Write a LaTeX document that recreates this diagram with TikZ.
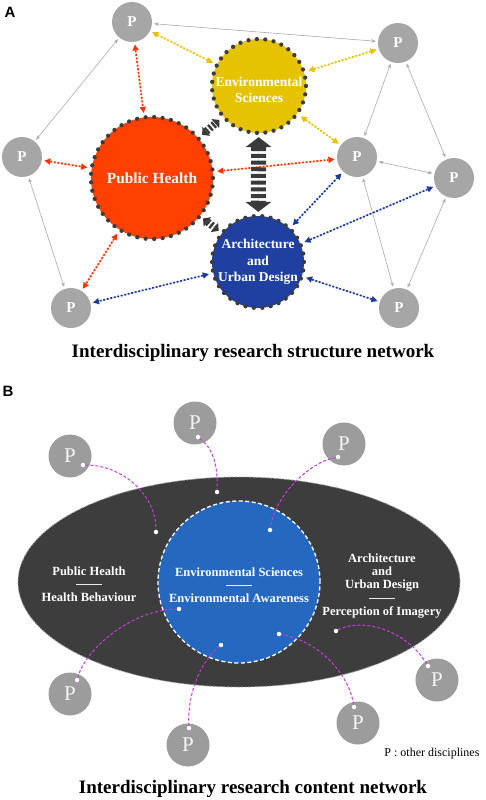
\documentclass[tikz,border=0pt]{standalone}
\usepackage{fontspec}
\setmainfont{Liberation Serif}
\newfontfamily\lsans{Liberation Sans}
\usetikzlibrary{arrows.meta,shapes.geometric}
\definecolor{pgA}{HTML}{A6A6A6}
\definecolor{pgB}{HTML}{9C9C9C}
\definecolor{phred}{HTML}{FF4000}
\definecolor{envyel}{HTML}{E6C300}
\definecolor{archblue}{HTML}{1F40A0}
\definecolor{redarr}{HTML}{FF3300}
\definecolor{yelarr}{HTML}{E8C000}
\definecolor{bluarr}{HTML}{1A3A9F}
\definecolor{dotc}{HTML}{3C3C3C}
\definecolor{ellc}{HTML}{3D3D3D}
\definecolor{bcirc}{HTML}{2468C0}
\definecolor{magc}{HTML}{C83CDC}
\definecolor{hatchc}{HTML}{3A3A3A}
\definecolor{grayline}{HTML}{ABABAB}
\begin{document}
\begin{tikzpicture}[x=1pt,y=-1pt,
  pA/.style={circle,fill=pgA,minimum size=40pt,inner sep=0pt,text=white,font=\bfseries\fontsize{15}{15}\selectfont},
  pB/.style={circle,fill=pgB,minimum size=43pt,inner sep=0pt,text=white!92!gray,font=\fontsize{21}{21}\selectfont},
  bigc/.style={circle,inner sep=0pt,text=white,align=center,draw=dotc,line width=4.3pt,line cap=round},
  hatch/.style={draw=hatchc,fill=hatchc},
  garr/.style={draw=grayline,line width=0.6pt,{Stealth[length=4.5pt,width=3.5pt]}-{Stealth[length=4.5pt,width=3.5pt]},shorten <=2pt,shorten >=2pt},
  carr/.style={line width=1.7pt,dash pattern=on 1.9pt off 1.7pt,{Triangle[length=6pt,width=6.5pt,line width=0pt]}-{Triangle[length=6pt,width=6.5pt,line width=0pt]},shorten <=2.5pt,shorten >=2.5pt},
  btext/.style={align=center,text=white,font=\bfseries\fontsize{12.5}{13.2}\selectfont},
  wdot/.style={circle,fill=white,minimum size=4.5pt,inner sep=0pt},
  mcurve/.style={draw=magc,line width=1pt,dash pattern=on 3pt off 2pt},
  title/.style={font=\bfseries\fontsize{19}{19}\selectfont},
  panel/.style={font=\lsans\bfseries\fontsize{15}{15}\selectfont}
]
\useasboundingbox (0,0) rectangle (485,800);
\fill[white] (0,0) rectangle (485,800);

% ---------------- Panel A ----------------
\node[panel] (labA) at (10,12) {A};

\node[pA] (p1) at (132,22) {P};
\node[pA] (p2) at (398,43) {P};
\node[pA] (p3) at (22,157) {P};
\node[pA] (p4) at (357,157) {P};
\node[pA] (p5) at (454,178) {P};
\node[pA] (p6) at (71,308) {P};
\node[pA] (p7) at (399,308) {P};

\node[bigc,fill=phred,minimum size=122pt,dash pattern=on 0pt off 8.518pt,font=\bfseries\fontsize{15.4}{17}\selectfont] (ph) at (152,178) {Public Health};
\node[bigc,fill=envyel,minimum size=94pt,dash pattern=on 0pt off 8.437pt,font=\bfseries\fontsize{13.5}{16}\selectfont] (env) at (259,86) {\raisebox{-8.4pt}[0pt][0pt]{\begin{tabular}{@{}c@{}}Environmental\\Sciences\end{tabular}}};
\node[bigc,fill=archblue,minimum size=92pt,dash pattern=on 0pt off 8.501pt,font=\bfseries\fontsize{13.5}{16.5}\selectfont] (arch) at (258,262) {Architecture\\and\\Urban Design};

% gray links
\draw[garr] (p1) -- (p2);
\draw[garr] (p1) -- (p3);
\draw[garr] (p3) -- (p6);
\draw[garr] (p2) -- (p4);
\draw[garr] (p2) -- (p5);
\draw[garr] (p4) -- (p5);
\draw[garr] (p4) -- (p7);
\draw[garr] (p5) -- (p7);

% red links
\draw[carr,draw=redarr,fill=redarr] (p1) -- (ph);
\draw[carr,draw=redarr,fill=redarr] (p3) -- (ph);
\draw[carr,draw=redarr,fill=redarr] (ph) -- (p4);
\draw[carr,draw=redarr,fill=redarr] (ph) -- (p6);
% yellow links
\draw[carr,draw=yelarr,fill=yelarr] (p1) -- (env);
\draw[carr,draw=yelarr,fill=yelarr] (env) -- (p2);
\draw[carr,draw=yelarr,fill=yelarr] (env) -- (p4);
% blue links
\draw[carr,draw=bluarr,fill=bluarr] (arch) -- (p4);
\draw[carr,draw=bluarr,fill=bluarr] (arch) -- (p5);
\draw[carr,draw=bluarr,fill=bluarr] (arch) -- (p6);
\draw[carr,draw=bluarr,fill=bluarr] (arch) -- (p7);

% hatched double arrows
\draw[hatch,line width=15pt,dash pattern=on 4pt off 2.7pt,{Triangle[width=26pt,length=10pt,line width=0pt]}-{Triangle[width=26pt,length=10pt,line width=0pt]},shorten <=2pt,shorten >=2pt] (env) -- (arch);
\draw[hatch,line width=7.5pt,dash pattern=on 2.3pt off 2pt,{Triangle[width=12pt,length=5.5pt,line width=0pt]}-{Triangle[width=12pt,length=5.5pt,line width=0pt]},shorten <=3pt,shorten >=3pt] (ph) -- (env);
\draw[hatch,line width=7.5pt,dash pattern=on 2.3pt off 2pt,{Triangle[width=12pt,length=5.5pt,line width=0pt]}-{Triangle[width=12pt,length=5.5pt,line width=0pt]},shorten <=2pt,shorten >=2pt] (ph) -- (arch);

\node[title] (titA) at (253,353) {Interdisciplinary research structure network};

% ---------------- Panel B ----------------
\node[panel] (labB) at (8,391) {B};

\node[ellipse,fill=ellc,draw=gray!75,line width=0.8pt,dash pattern=on 2pt off 1.5pt,minimum width=442pt,minimum height=210pt,inner sep=0pt] (ell) at (239,582) {};
\node[circle,fill=bcirc,draw=white,line width=1.3pt,dash pattern=on 4pt off 2.5pt,minimum size=162pt,inner sep=0pt] (ec) at (239,582) {};

\node[btext] (tph) at (89,584) {Public Health\\\textcolor{white!85!gray}{\rule[3.3pt]{26pt}{0.9pt}}\\Health Behaviour};
\node[btext] (tes) at (239,585) {Environmental Sciences\\\textcolor{white!85!gray}{\rule[3.3pt]{26pt}{0.9pt}}\\Environmental Awareness};
\node[btext] (tar) at (382,586) {Architecture\\and\\Urban Design\\\textcolor{white!85!gray}{\rule[3.3pt]{26pt}{0.9pt}}\\Perception of Imagery};

\node[pB] (q1) at (70,456) {P};
\node[pB] (q2) at (195,423) {P};
\node[pB] (q3) at (344,444) {P};
\node[pB] (q4) at (70,694) {P};
\node[pB] (q5) at (188,745) {P};
\node[pB] (q6) at (358,723) {P};
\node[pB] (q7) at (437,680) {P};

\node[wdot] (d1a) at (83,465) {};
\node[wdot] (d1b) at (156,532) {};
\node[wdot] (d2a) at (198,437) {};
\node[wdot] (d2b) at (217,492) {};
\node[wdot] (d3a) at (338,457) {};
\node[wdot] (d3b) at (270,530) {};
\node[wdot] (d4a) at (77,680) {};
\node[wdot] (d4b) at (179,609) {};
\node[wdot] (d5a) at (189,728) {};
\node[wdot] (d5b) at (221,645) {};
\node[wdot] (d6a) at (354,707) {};
\node[wdot] (d6b) at (279,634) {};
\node[wdot] (d7a) at (428,666) {};
\node[wdot] (d7b) at (336,631) {};

\draw[mcurve] (d1a) .. controls (123,465) and (156,495) .. (d1b);
\draw[mcurve] (d2a) .. controls (212,448) and (218,462) .. (d2b);
\draw[mcurve] (d3a) .. controls (310,462) and (275,495) .. (d3b);
\draw[mcurve] (d4a) .. controls (85,650) and (130,610) .. (d4b);
\draw[mcurve] (d5a) .. controls (187,695) and (200,662) .. (d5b);
\draw[mcurve] (d6a) .. controls (348,670) and (315,640) .. (d6b);
\draw[mcurve] (d7a) .. controls (405,628) and (360,618) .. (d7b);

\node[anchor=east,font=\fontsize{12}{12}\selectfont] (leg) at (483,754) {P : other disciplines};
\node[title] (titB) at (253,789) {Interdisciplinary research content network};
\end{tikzpicture}
\end{document}
